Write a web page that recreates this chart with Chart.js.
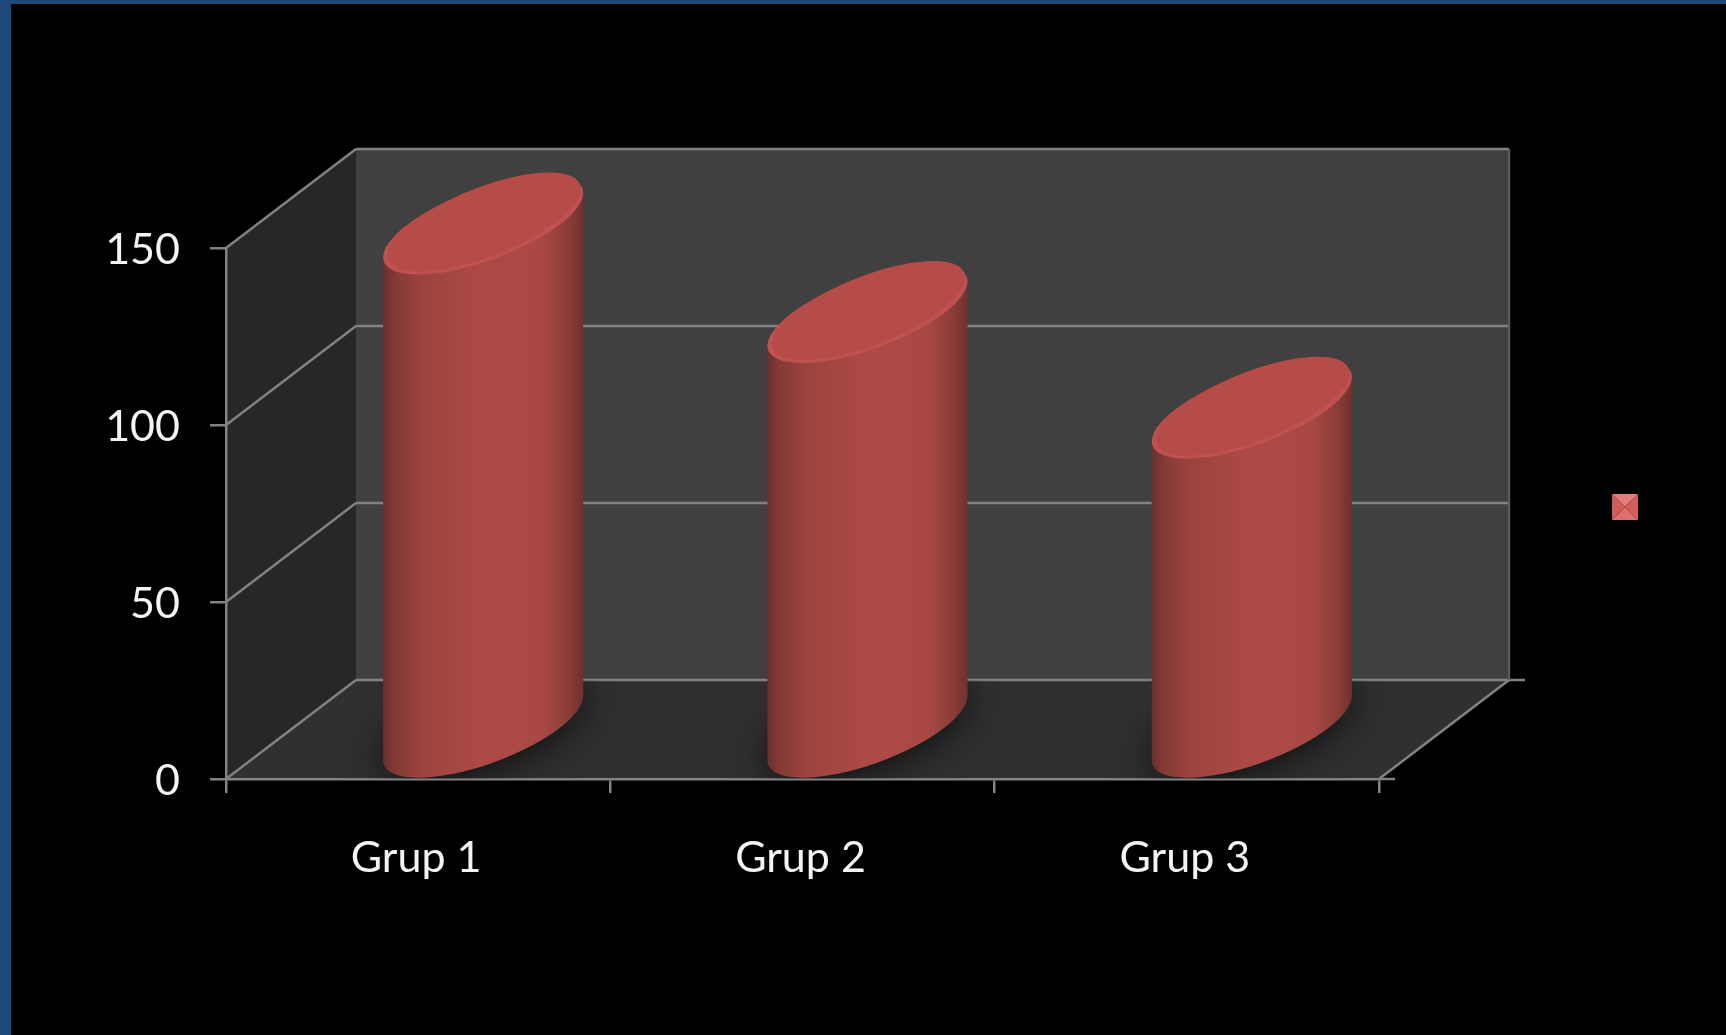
<!DOCTYPE html>
<html>
<head>
<meta charset="utf-8">
<title>Grup</title>
<script src="https://cdn.jsdelivr.net/npm/chart.js@4/dist/chart.umd.min.js"></script>
<style>
  html, body { margin: 0; padding: 0; background: #000; }
  canvas { display: block; }
</style>
</head>
<body>
<canvas id="chart" width="1726" height="1035"></canvas>
<script>
const categories = ['Grup 1', 'Grup 2', 'Grup 3'];
const seriesValues = [142.5, 117.5, 90.5];
const yTicks = [0, 50, 100, 150];

// offset from the front plane to the back wall
const depthX = 130;
const depthY = 99;
const lineColor = '#828282';
const textColor = '#f4f4f4';
const labelFont = { family: 'Lato', size: 43 };

function polygon(ctx, points, fill) {
  ctx.beginPath();
  points.forEach(([x, y], i) => (i ? ctx.lineTo(x, y) : ctx.moveTo(x, y)));
  ctx.closePath();
  ctx.fillStyle = fill;
  ctx.fill();
}

function segment(ctx, x1, y1, x2, y2) {
  ctx.beginPath();
  ctx.moveTo(x1, y1);
  ctx.lineTo(x2, y2);
  ctx.stroke();
}

// unit circle pushed through the oblique projection, gives the tilted ellipse
function obliqueArc(ctx, cx, cy, rx, from, to) {
  ctx.save();
  ctx.transform(rx, 0, depthX / 2, -depthY / 2, cx, cy);
  ctx.arc(0, 0, 1, from, to, true);
  ctx.restore();
}

function obliqueEllipse(ctx, cx, cy, rx) {
  ctx.beginPath();
  obliqueArc(ctx, cx, cy, rx, 0, -Math.PI * 2);
  ctx.closePath();
}

const frame = {
  id: 'frame',
  beforeDraw(chart) {
    const { ctx, width, height, chartArea: area, scales } = chart;
    const { left, right, top, bottom } = area;

    ctx.save();
    ctx.fillStyle = '#1f497d';
    ctx.fillRect(0, 0, width, height);
    ctx.fillStyle = '#000';
    ctx.fillRect(11, 4, width - 11, height - 4);

    polygon(ctx, [[left, top], [left + depthX, top - depthY], [left + depthX, bottom - depthY], [left, bottom]], '#272727');
    polygon(ctx, [[left + depthX, top - depthY], [right + depthX, top - depthY], [right + depthX, bottom - depthY], [left + depthX, bottom - depthY]], '#404040');
    polygon(ctx, [[left, bottom], [left + depthX, bottom - depthY], [right + depthX, bottom - depthY], [right, bottom]], '#303030');

    ctx.strokeStyle = lineColor;
    ctx.lineWidth = 2.5;
    yTicks.forEach((tick) => {
      const y = scales.y.getPixelForValue(tick);
      segment(ctx, left, y, left + depthX, y - depthY);
      segment(ctx, left + depthX, y - depthY, right + depthX, y - depthY);
    });
    segment(ctx, right, bottom, right + depthX, bottom - depthY);
    segment(ctx, right + depthX, bottom - depthY, right + depthX + 16, bottom - depthY);
    segment(ctx, right, bottom, right + 16, bottom);
    ctx.strokeStyle = '#5a5a5a';
    segment(ctx, right + depthX, top - depthY, right + depthX, bottom - depthY);
    ctx.restore();
  },
};

function drawCylinder(chart, bar) {
  const { ctx, chartArea: area } = chart;
  const rx = bar.width / 2;
  const cx = bar.x + depthX / 2;
  const topY = bar.y - depthY / 2;
  const baseY = bar.base - depthY / 2;

  // where the side walls leave the ellipse
  const halfW = Math.hypot(rx, depthX / 2);
  const sideY = (depthY / 2) * (depthX / 2) / halfW;
  const turn = Math.atan2(depthX / 2, rx);

  // contact shadow on the floor only
  ctx.save();
  ctx.beginPath();
  ctx.moveTo(area.left, area.bottom);
  ctx.lineTo(area.left + depthX, area.bottom - depthY);
  ctx.lineTo(area.right + depthX, area.bottom - depthY);
  ctx.lineTo(area.right, area.bottom);
  ctx.closePath();
  ctx.clip();
  ctx.shadowColor = 'rgba(0,0,0,0.9)';
  ctx.shadowBlur = 44;
  ctx.fillStyle = '#1a1a1a';
  obliqueEllipse(ctx, cx, baseY, rx * 0.97);
  ctx.fill();
  ctx.restore();

  // side wall: top silhouette edge, down the right, along the front of the base, up the left
  const side = ctx.createLinearGradient(cx - halfW, 0, cx + halfW, 0);
  side.addColorStop(0, '#6a2f2c');
  side.addColorStop(0.06, '#843a36');
  side.addColorStop(0.2, '#9c433f');
  side.addColorStop(0.5, '#ae4a46');
  side.addColorStop(0.8, '#a84844');
  side.addColorStop(0.93, '#8a3c38');
  side.addColorStop(1, '#6f312e');

  ctx.save();
  ctx.fillStyle = side;
  ctx.beginPath();
  ctx.moveTo(cx - halfW, topY + sideY);
  ctx.lineTo(cx + halfW, topY - sideY);
  ctx.lineTo(cx + halfW, baseY - sideY);
  obliqueArc(ctx, cx, baseY, rx, turn, turn - Math.PI);
  ctx.closePath();
  ctx.fill();
  ctx.restore();

  // cap with its lighter rim
  ctx.save();
  ctx.fillStyle = '#bf5250';
  obliqueEllipse(ctx, cx, topY, rx);
  ctx.fill();
  ctx.fillStyle = '#b54c48';
  obliqueEllipse(ctx, cx + 1, topY - 3, rx * 0.94);
  ctx.fill();
  ctx.restore();
}

const cylinders = {
  id: 'cylinders',
  beforeDatasetDraw(chart, args) {
    args.meta.data.forEach((bar) => drawCylinder(chart, bar));
    return false;
  },
};

const legendKey = {
  id: 'legendKey',
  afterDraw(chart) {
    const { ctx } = chart;
    const x = 1612, y = 494, s = 26;
    const mx = x + s / 2, my = y + s / 2;
    ctx.save();
    polygon(ctx, [[x, y], [x + s, y], [mx, my]], '#e27d7c');
    polygon(ctx, [[x, y + s], [x + s, y + s], [mx, my]], '#e06e6d');
    polygon(ctx, [[x, y], [x, y + s], [mx, my]], '#d05c5b');
    polygon(ctx, [[x + s, y], [x + s, y + s], [mx, my]], '#d35e5d');
    ctx.restore();
  },
};

new Chart(document.getElementById('chart'), {
  type: 'bar',
  data: {
    labels: categories,
    datasets: [{ data: seriesValues, categoryPercentage: 1, barPercentage: 0.396 }],
  },
  options: {
    responsive: false,
    animation: false,
    events: [],
    layout: { autoPadding: false, padding: { top: 248, right: 347, bottom: 0, left: 0 } },
    plugins: { legend: { display: false }, tooltip: { enabled: false } },
    scales: {
      x: {
        afterFit(scale) { scale.height = 256; },
        border: { color: lineColor, width: 2.5 },
        grid: { offset: true, drawOnChartArea: false, color: lineColor, lineWidth: 2.5, tickLength: 14 },
        ticks: { color: textColor, font: labelFont, padding: 39, maxRotation: 0, labelOffset: -2 },
      },
      y: {
        min: 0,
        max: 150,
        afterFit(scale) { scale.width = 226; },
        afterBuildTicks(scale) { scale.ticks = yTicks.map((value) => ({ value })); },
        border: { color: lineColor, width: 2.5 },
        grid: { drawOnChartArea: false, color: lineColor, lineWidth: 2.5, tickLength: 16 },
        ticks: { color: textColor, font: labelFont, padding: 30, labelOffset: 2 },
      },
    },
  },
  plugins: [frame, cylinders, legendKey],
});
</script>
</body>
</html>
